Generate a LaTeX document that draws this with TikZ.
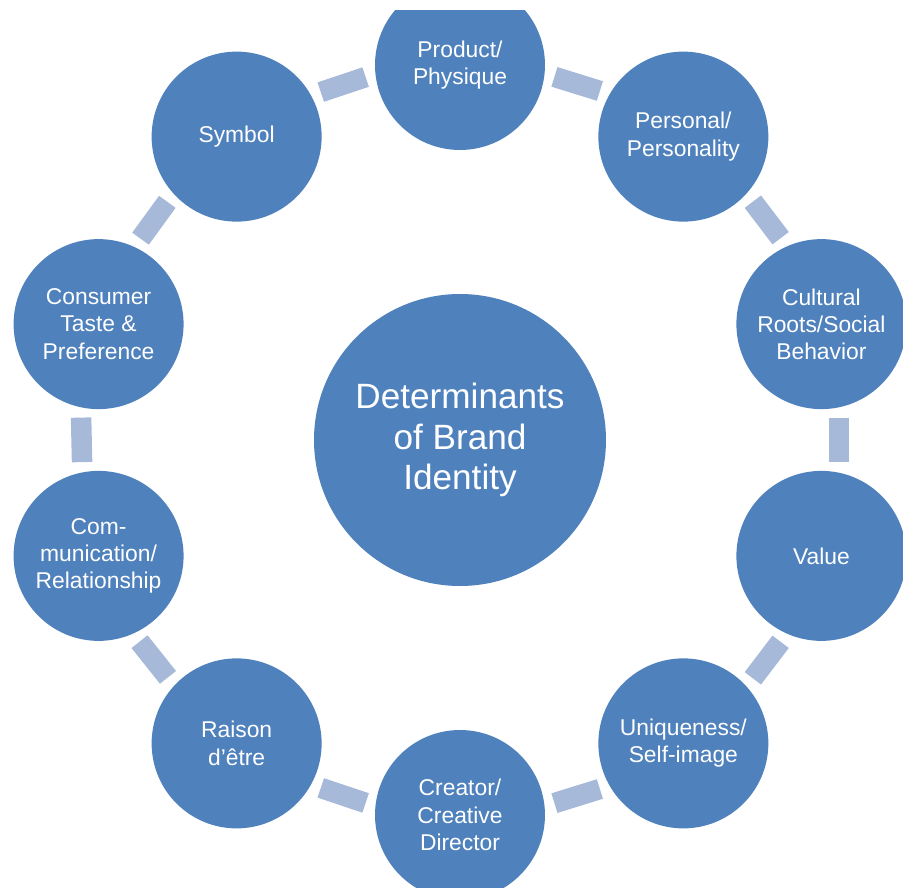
\documentclass[tikz,border=0pt]{standalone}
\usepackage{fontspec}
\setmainfont{Liberation Sans}
\usetikzlibrary{positioning}
\definecolor{circblue}{RGB}{79, 129, 189}
\definecolor{linkblue}{RGB}{167, 185, 216}

\begin{document}
\begin{tikzpicture}[
  factor/.style={circle, fill=circblue, text=white, minimum size=3.4cm, inner sep=0pt, align=center, font=\fontsize{13}{15.5}\selectfont},
  hub/.style={circle, fill=circblue, text=white, minimum size=5.84cm, inner sep=0pt, align=center, font=\fontsize{20}{23}\selectfont},
  link/.style={draw=linkblue, line width=0.41cm, shorten <=0.2cm, shorten >=0.2cm}
]
  \useasboundingbox (-9.2,-8.94) rectangle (8.86,8.8);
  \clip (-9.2,-8.94) rectangle (8.86,8.6);

  % centre
  \node[hub] (core) at (0,0) {Determinants\\of Brand\\Identity};

  % ring of determinants, clockwise from the top
  \node[factor] (prod)  at (90:7.6 and 7.5)  {Product/\\Physique};
  \node[factor] (pers)  at (54:7.6 and 7.5)  {Personal/\\Personality};
  \node[factor] (cult)  at (18:7.6 and 7.5)  {Cultural\\Roots/Social\\Behavior};
  \node[factor] (val)   at (-18:7.6 and 7.5) {Value};
  \node[factor] (uniq)  at (-54:7.6 and 7.5) {Uniqueness/\\Self-image};
  \node[factor] (creat) at (-90:7.6 and 7.5) {Creator/\\Creative\\Director};
  \node[factor] (rais)  at (234:7.6 and 7.5) {Raison\\d'être};
  \node[factor] (comm)  at (198:7.6 and 7.5) {Com-\\munication/\\Relationship};
  \node[factor] (cons)  at (162:7.6 and 7.5) {Consumer\\Taste \&\\Preference};
  \node[factor] (symb)  at (126:7.6 and 7.5) {Symbol};

  % short bars between neighbours, leaving each circle where the ring crosses it
  \foreach \a/\b/\t [evaluate=\t as \s using \t-96.5,
                     evaluate=\t as \e using \t+60.5] in
      {prod/pers/90, pers/cult/54, cult/val/18, val/uniq/-18, uniq/creat/-54,
       creat/rais/-90, rais/comm/234, comm/cons/198, cons/symb/162, symb/prod/126}
    \draw[link] (\a.\s) -- (\b.\e);
\end{tikzpicture}
\end{document}
